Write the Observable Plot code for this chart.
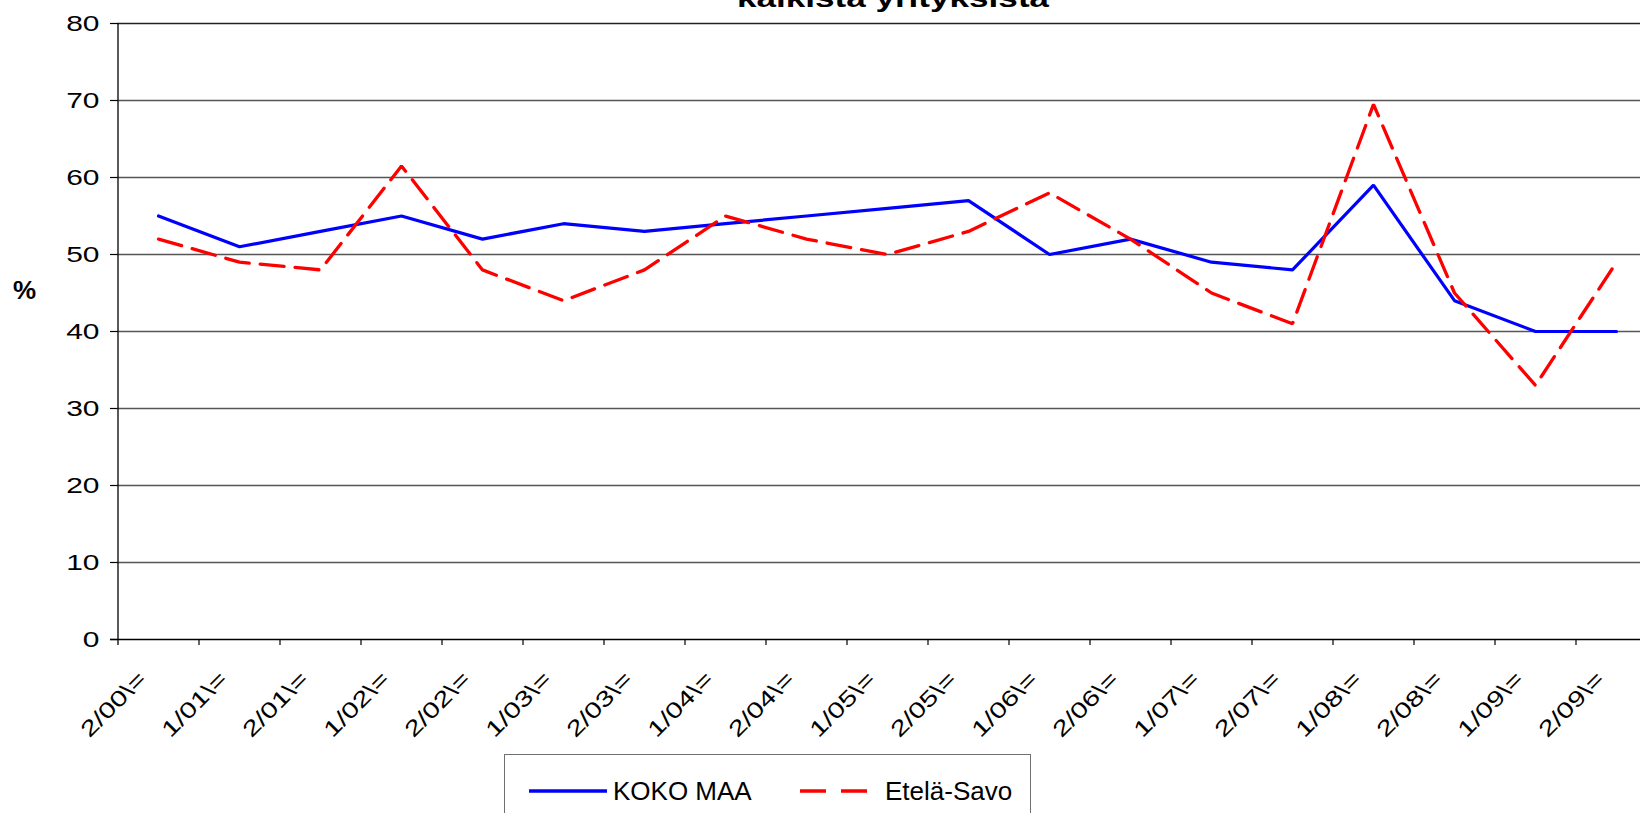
<!DOCTYPE html>
<html>
<head>
<meta charset="utf-8">
<script src="https://cdn.jsdelivr.net/npm/d3@7"></script>
<script src="https://cdn.jsdelivr.net/npm/@observablehq/plot@0.6"></script>
<style>
  html, body { margin: 0; padding: 0; background: #fff; }
  #wrap { position: relative; width: 1640px; height: 813px; overflow: hidden; background: #fff;
          font-family: "Liberation Sans", Arial, sans-serif; color: #000; }
  #wrap svg { position: absolute; left: 0; top: 0; }
  .abs { position: absolute; white-space: nowrap; }
  #title { left: 893px; top: -15px; font-size: 26px; line-height: 26px; font-weight: bold;
           transform: translateX(-50%) scaleX(1.35); transform-origin: center; }
  #ylab { left: 13px; top: 277px; font-size: 26px; line-height: 26px; font-weight: bold; }
  #legend { left: 504px; top: 754px; width: 527px; height: 80px; border: 1px solid #707070; box-sizing: border-box; }
  .legtext { font-size: 26px; line-height: 26px; top: 778px; }
</style>
</head>
<body>
<div id="wrap">
  <div id="title" class="abs">kaikista yrityksistä</div>
  <div id="ylab" class="abs">%</div>
  <div id="legend" class="abs"></div>
</div>
<script>
// ---- data ----
const categories = ["2/00\\=", "1/01\\=", "2/01\\=", "1/02\\=", "2/02\\=", "1/03\\=", "2/03\\=", "1/04\\=", "2/04\\=", "1/05\\=",
                    "2/05\\=", "1/06\\=", "2/06\\=", "1/07\\=", "2/07\\=", "1/08\\=", "2/08\\=", "1/09\\=", "2/09\\="];
const kokoMaa   = [55, 51, 53, 55, 52, 54, 53, 54, 55, 56, 57, 50, 52, 49, 48, 59, 44, 40, 40];
const etelaSavo = [52, 49, 48, 61.5, 48, 44, 48, 55, 52, 50, 53, 58, 52, 45, 41, 69.5, 45, 33, 49];
const yTicks = [0, 10, 20, 30, 40, 50, 60, 70, 80];
const seriesNames = ["KOKO MAA", "Etelä-Savo"];
const seriesColors = ["#0000ff", "#ff0000"];

const kokoRows = categories.map((c, i) => ({c, v: kokoMaa[i]}));
const savoRows = categories.map((c, i) => ({c, v: etelaSavo[i]}));

const W = 1640, H = 813;
const left = 117, band = 81, bottomY = 639, topY = 23;
const tickLen = 6 / ((bottomY - topY) / 80);

const chart = Plot.plot({
  width: W, height: H,
  marginLeft: left, marginRight: 0, marginTop: topY, marginBottom: H - bottomY,
  style: {fontFamily: "'Liberation Sans', Arial, sans-serif", fontSize: "21px", color: "#000", background: "transparent", overflow: "hidden"},
  x: {type: "point", domain: categories, range: [left, left + band * categories.length], padding: 0.5, axis: null},
  y: {domain: [0, 80], range: [bottomY, topY], axis: null},
  marks: [
    Plot.ruleY(yTicks.filter(d => d > 0 && d < 80), {y: d => d, stroke: "#555", strokeWidth: 1.4}),
    Plot.ruleY([80], {y: d => d, stroke: "#222", strokeWidth: 1.4}),
    Plot.ruleY(yTicks, {y: d => d, insetLeft: -7, insetRight: W - left, stroke: "#000", strokeWidth: 1.2}),
    Plot.ruleY([0], {y: d => d, insetLeft: -7, stroke: "#000", strokeWidth: 1.6}),
    Plot.ruleX([categories[0]], {x: d => d, dx: -band / 2, y1: -tickLen, y2: 80, stroke: "#000", strokeWidth: 1.3}),
    Plot.ruleX(categories.slice(1), {x: d => d, dx: -band / 2, y1: -tickLen, y2: 0, stroke: "#000", strokeWidth: 1.2}),
    Plot.text(yTicks, {y: d => d, text: d => String(d), frameAnchor: "left", textAnchor: "end", lineAnchor: "middle", dx: -18, fontSize: 22, fill: "#000"}),
    Plot.text(categories, {x: d => d, y: 0, text: d => d, rotate: -45, textAnchor: "end", lineAnchor: "middle", dx: -16, dy: 36, fontSize: 22, fill: "#000"}),
    Plot.line(kokoRows, {x: "c", y: "v", stroke: seriesColors[0], strokeWidth: 3.2, strokeLinejoin: "miter"}),
    Plot.line(savoRows, {x: "c", y: "v", stroke: seriesColors[1], strokeWidth: 3.3, strokeDasharray: "24,11", strokeLinejoin: "miter"})
  ]
});

// horizontally stretch tick label glyphs (in their own text frame) to match the reference's wide lettering
d3.select(chart).selectAll("text").each(function() {
  const s = this.textContent;
  let k = null;
  if (/^\d+$/.test(s)) k = 1.36;
  else if (s.includes("/")) k = 1.33;
  if (!k) return;
  const t = this.getAttribute("transform") || "";
  this.setAttribute("transform", `${t} scale(${k},1)`);
});

const wrap = document.getElementById("wrap");
wrap.insertBefore(chart, wrap.firstChild);

// legend
function swatch(xl, xr, color, dash) {
  const ns = "http://www.w3.org/2000/svg";
  const s = document.createElementNS(ns, "svg");
  s.setAttribute("width", xr - xl); s.setAttribute("height", 20);
  s.setAttribute("class", "abs");
  s.style.left = xl + "px"; s.style.top = "781px";
  const l = document.createElementNS(ns, "line");
  l.setAttribute("x1", 0); l.setAttribute("x2", xr - xl);
  l.setAttribute("y1", 10); l.setAttribute("y2", 10);
  l.setAttribute("stroke", color); l.setAttribute("stroke-width", 3.5);
  if (dash) l.setAttribute("stroke-dasharray", dash);
  s.appendChild(l);
  wrap.appendChild(s);
}
function legText(x, str) {
  const d = document.createElement("div");
  d.className = "abs legtext";
  d.style.left = x + "px";
  d.textContent = str;
  wrap.appendChild(d);
}
swatch(529, 607, seriesColors[0], null);
legText(613, seriesNames[0]);
swatch(800, 867, seriesColors[1], "26,15");
legText(885, seriesNames[1]);
</script>
</body>
</html>
